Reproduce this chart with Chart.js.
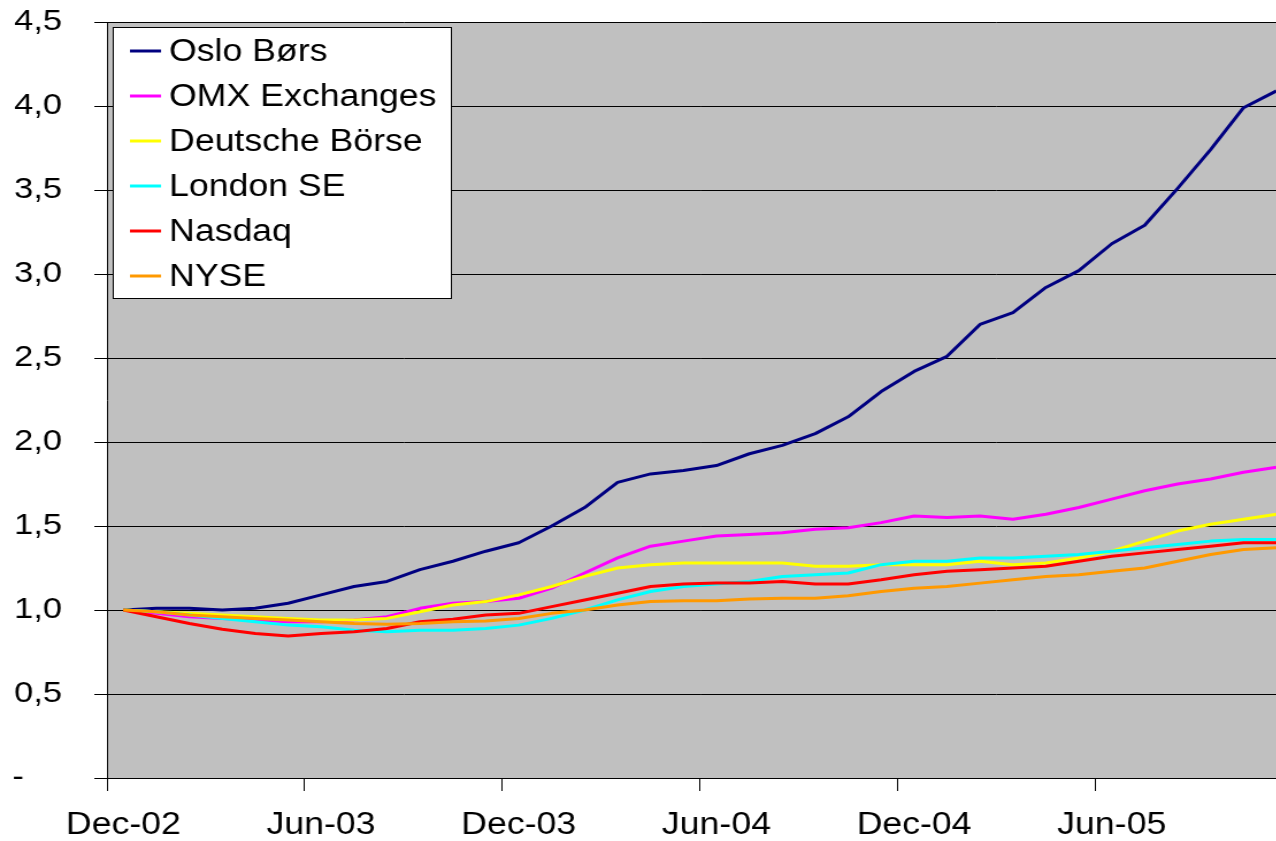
<!DOCTYPE html>
<html>
<head>
<meta charset="utf-8">
<script src="https://cdn.jsdelivr.net/npm/chart.js@4"></script>
<style>
html, body { margin: 0; padding: 0; background: #fff; overflow: hidden; }
/* the original picture is a bit stretched sideways, so the chart is too */
#wrap { width: 1126px; height: 841px; transform: scaleX(1.15); transform-origin: 0 0; }
</style>
</head>
<body>
<div id="wrap"><canvas id="chart"></canvas></div>
<script>
const months = [
    "Dec-02", "Jan-03", "Feb-03", "Mar-03", "Apr-03", "May-03",
    "Jun-03", "Jul-03", "Aug-03", "Sep-03", "Oct-03", "Nov-03",
    "Dec-03", "Jan-04", "Feb-04", "Mar-04", "Apr-04", "May-04",
    "Jun-04", "Jul-04", "Aug-04", "Sep-04", "Oct-04", "Nov-04",
    "Dec-04", "Jan-05", "Feb-05", "Mar-05", "Apr-05", "May-05",
    "Jun-05", "Jul-05", "Aug-05", "Sep-05", "Oct-05", "Nov-05"
];

const names = ["Oslo Børs", "OMX Exchanges", "Deutsche Börse", "London SE", "Nasdaq", "NYSE"];
const colors = ["#000080", "#FF00FF", "#FFFF00", "#00FFFF", "#FF0000", "#FF9900"];

const osloBors = [1.00, 1.01, 1.01, 1.00, 1.01, 1.04, 1.09, 1.14, 1.17, 1.24, 1.29, 1.35,
                  1.40, 1.50, 1.61, 1.76, 1.81, 1.83, 1.86, 1.93, 1.98, 2.05, 2.15, 2.30,
                  2.42, 2.51, 2.70, 2.77, 2.92, 3.02, 3.18, 3.29, 3.51, 3.74, 3.99, 4.09];
const omx = [1.00, 0.98, 0.96, 0.95, 0.94, 0.93, 0.93, 0.94, 0.96, 1.01, 1.04, 1.05,
             1.07, 1.13, 1.22, 1.31, 1.38, 1.41, 1.44, 1.45, 1.46, 1.48, 1.49, 1.52,
             1.56, 1.55, 1.56, 1.54, 1.57, 1.61, 1.66, 1.71, 1.75, 1.78, 1.82, 1.85];
const deutsche = [1.00, 0.99, 0.98, 0.97, 0.96, 0.95, 0.94, 0.94, 0.95, 0.99, 1.03, 1.05,
                  1.09, 1.14, 1.20, 1.25, 1.27, 1.28, 1.28, 1.28, 1.28, 1.26, 1.26, 1.27,
                  1.27, 1.27, 1.29, 1.27, 1.28, 1.31, 1.35, 1.41, 1.47, 1.51, 1.54, 1.57];
const london = [1.00, 0.99, 0.97, 0.95, 0.93, 0.91, 0.90, 0.88, 0.87, 0.88, 0.88, 0.89,
                0.91, 0.95, 1.00, 1.06, 1.11, 1.14, 1.155, 1.17, 1.20, 1.21, 1.22, 1.27,
                1.29, 1.29, 1.31, 1.31, 1.32, 1.33, 1.35, 1.37, 1.39, 1.41, 1.42, 1.42];
const nasdaq = [1.00, 0.96, 0.92, 0.885, 0.86, 0.845, 0.86, 0.87, 0.89, 0.93, 0.945, 0.97,
                0.98, 1.02, 1.06, 1.10, 1.14, 1.155, 1.16, 1.16, 1.17, 1.155, 1.155, 1.18,
                1.21, 1.23, 1.24, 1.25, 1.26, 1.29, 1.32, 1.34, 1.36, 1.38, 1.40, 1.40];
const nyse = [1.00, 0.99, 0.97, 0.96, 0.95, 0.94, 0.93, 0.92, 0.915, 0.92, 0.93, 0.935,
              0.95, 0.98, 1.00, 1.03, 1.05, 1.055, 1.055, 1.065, 1.07, 1.07, 1.085, 1.11,
              1.13, 1.14, 1.16, 1.18, 1.20, 1.21, 1.23, 1.25, 1.29, 1.33, 1.36, 1.37];

const series = [osloBors, omx, deutsche, london, nasdaq, nyse];

const yMin = 0;
const yMax = 4.5;
const yStep = 0.5;
const labelEvery = 6;

const fontFamily = '"Liberation Sans", Arial, sans-serif';


// grey plot area
const plotBg = {
    id: 'plotBg',
    beforeDraw(chart) {
        const { ctx, chartArea: a } = chart;
        ctx.save();
        ctx.fillStyle = '#C0C0C0';
        ctx.fillRect(a.left, a.top, a.right - a.left, a.bottom - a.top);
        ctx.restore();
    }
};

// legend box inside the plot, top left
const legendBox = {
    id: 'legendBox',
    afterDraw(chart) {
        const ctx = chart.ctx;
        ctx.save();
        ctx.fillStyle = '#fff';
        ctx.fillRect(98.5, 27.5, 294, 271);
        ctx.strokeStyle = '#000';
        ctx.lineWidth = 1;
        ctx.strokeRect(98.5, 27.5, 294, 271);
        ctx.font = '31px ' + fontFamily;
        ctx.textBaseline = 'middle';
        chart.data.datasets.forEach((ds, i) => {
            const y = 51 + i * 45;
            ctx.strokeStyle = ds.borderColor;
            ctx.lineWidth = 3;
            ctx.beginPath();
            ctx.moveTo(113, y);
            ctx.lineTo(140, y);
            ctx.stroke();
            ctx.fillStyle = '#000';
            ctx.fillText(ds.label, 147, y + 1);
        });
        ctx.restore();
    }
};


const datasets = names.map((name, i) => ({
    label: name,
    data: series[i],
    borderColor: colors[i],
    backgroundColor: colors[i],
    borderWidth: 3,
    pointRadius: 0,
    tension: 0,
    fill: false,
    borderJoinStyle: 'round',
    order: names.length - 1 - i
}));

new Chart(document.getElementById('chart'), {
    type: 'line',
    data: { labels: months, datasets: datasets },
    options: {
        responsive: true,
        maintainAspectRatio: false,
        animation: false,
        layout: { padding: { top: 22, right: 1, left: 0, bottom: 0 } },
        plugins: {
            legend: { display: false },
            tooltip: { enabled: false }
        },
        scales: {
            x: {
                type: 'category',
                offset: true,
                grid: {
                    offset: true,
                    drawOnChartArea: false,
                    tickLength: 13,
                    tickColor: c => (c.index % labelEvery === 0 ? '#000' : 'rgba(0,0,0,0)'),
                    color: '#000'
                },
                border: { color: '#000', width: 1 },
                ticks: {
                    autoSkip: false,
                    maxRotation: 0,
                    color: '#000',
                    padding: 16,
                    font: { size: 31, family: fontFamily },
                    callback: (v, i) => (i % labelEvery === 0 ? months[i] : '')
                },
                afterFit(s) { s.height = 63; }
            },
            y: {
                min: yMin,
                max: yMax,
                grid: { color: '#000', tickLength: 11, lineWidth: 1 },
                border: { color: '#000', width: 1 },
                ticks: {
                    stepSize: yStep,
                    color: '#000',
                    padding: 28,
                    font: { size: 30, family: fontFamily },
                    callback: v => (v === 0 ? '-    ' : v.toFixed(1).replace('.', ','))
                },
                afterFit(s) {
                    s.width = 93;
                    // the big label gap should not push the plot down
                    s.paddingTop = 0;
                    s.paddingBottom = 0;
                }
            }
        }
    },
    plugins: [plotBg, legendBox]
});
</script>
</body>
</html>
